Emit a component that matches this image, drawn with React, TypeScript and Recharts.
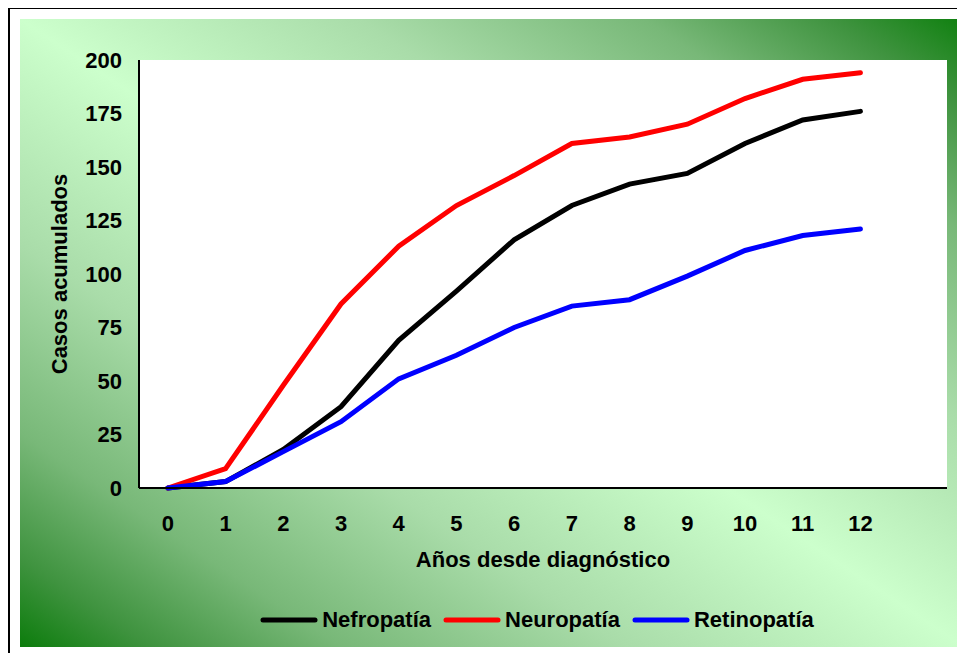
import React from "react";
import {
  LineChart,
  Line,
  XAxis,
  YAxis,
  CartesianGrid,
  Legend,
  Label,
} from "recharts";

const years = [0, 1, 2, 3, 4, 5, 6, 7, 8, 9, 10, 11, 12];
const nefropatia = [0, 3, 18, 38, 69, 92, 116, 132, 142, 147, 161, 172, 176];
const neuropatia = [0, 9, 48, 86, 113, 132, 146, 161, 164, 170, 182, 191, 194];
const retinopatia = [0, 3, 17, 31, 51, 62, 75, 85, 88, 99, 111, 118, 121];
const yTicks = [0, 25, 50, 75, 100, 125, 150, 175, 200];

const data = years.map((year, i) => ({
  year,
  Nefropatía: nefropatia[i],
  Neuropatía: neuropatia[i],
  Retinopatía: retinopatia[i],
}));

const font = "'Liberation Sans', Arial, sans-serif";
const tickStyle = { fontSize: 22, fontWeight: 700, fill: "#000", fontFamily: font };

const renderLegend = (props: any) => {
  const { payload } = props;
  return (
    <div
      style={{
        display: "flex",
        justifyContent: "center",
        alignItems: "center",
        height: 30,
        fontFamily: font,
        fontWeight: 700,
        fontSize: 22,
        color: "#000",
      }}
    >
      {payload.map((entry: any) => (
        <div
          key={entry.value}
          style={{ display: "flex", alignItems: "center", marginRight: 12 }}
        >
          <svg width={58} height={8} style={{ marginRight: 4 }}>
            <line
              x1={3}
              y1={4}
              x2={55}
              y2={4}
              stroke={entry.color}
              strokeWidth={5}
              strokeLinecap="round"
            />
          </svg>
          <span>{entry.value}</span>
        </div>
      ))}
    </div>
  );
};

const App = () => {
  return (
    <div style={{ width: 957, height: 646, overflow: "hidden", marginTop: -1 }}>
      <div style={{ border: "2px solid #000", padding: 10, width: 960 }}>
        <div
          style={{
            width: 945,
            height: 628,
            background:
              "linear-gradient(to top right, #0c7c0c 0%, #3f933f 7%, #78b878 17%, #a9dca9 32%, #ccffcc 50%, #a9dca9 68%, #78b878 83%, #3f933f 93%, #0f800f 100%)",
          }}
        >
          <LineChart
            width={945}
            height={628}
            data={data}
            margin={{ top: 41, right: 18, left: 0, bottom: 39 }}
          >
            <CartesianGrid horizontal={false} vertical={false} fill="#ffffff" />
            <XAxis
              dataKey="year"
              type="number"
              domain={[-0.5, 13.5]}
              ticks={years}
              interval={0}
              height={90}
              tickLine={false}
              tickMargin={21}
              tick={tickStyle}
              axisLine={{ stroke: "#000", strokeWidth: 2 }}
            >
              <Label
                value="Años desde diagnóstico"
                position="insideBottom"
                offset={11}
                style={{ fontSize: 22, fontWeight: 700, fill: "#000", fontFamily: font }}
              />
            </XAxis>
            <YAxis
              domain={[0, 200]}
              ticks={yTicks}
              interval={0}
              width={119}
              tickLine={false}
              tickMargin={11}
              tick={tickStyle}
              axisLine={{ stroke: "#000", strokeWidth: 2 }}
            >
              <Label
                value="Casos acumulados"
                angle={-90}
                position="center"
                dx={-20}
                style={{ fontSize: 22, fontWeight: 700, fill: "#000", fontFamily: font, textAnchor: "middle" }}
              />
            </YAxis>
            <Legend
              verticalAlign="bottom"
              content={renderLegend}
              wrapperStyle={{ top: 586, bottom: "auto", left: 119, width: 808 }}
            />
            <Line
              dataKey="Nefropatía"
              stroke="#000000"
              strokeWidth={5}
              dot={false}
              strokeLinecap="round"
              isAnimationActive={false}
            />
            <Line
              dataKey="Neuropatía"
              stroke="#ff0000"
              strokeWidth={5}
              dot={false}
              strokeLinecap="round"
              isAnimationActive={false}
            />
            <Line
              dataKey="Retinopatía"
              stroke="#0000ff"
              strokeWidth={5}
              dot={false}
              strokeLinecap="round"
              isAnimationActive={false}
            />
          </LineChart>
        </div>
      </div>
    </div>
  );
};

export default App;
